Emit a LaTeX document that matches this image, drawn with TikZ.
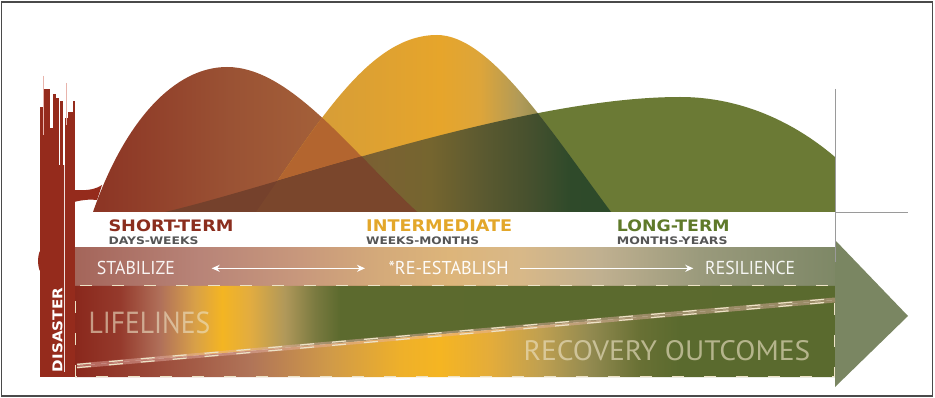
\documentclass[tikz,border=0pt]{standalone}
\usepackage{fontspec}
\usepackage{graphicx}
\usetikzlibrary{arrows.meta}
\newfontfamily\hdfont{DejaVu Sans}
\newfontfamily\ptfont{PT Sans}

\definecolor{barred}{HTML}{952B1C}
\definecolor{pinkl}{HTML}{E8B4AC}
\definecolor{stcol}{HTML}{8B2E1E}
\definecolor{imcol}{HTML}{E3A72A}
\definecolor{ltcol}{HTML}{5F7A2A}
\definecolor{subcol}{HTML}{555555}
\definecolor{framecol}{HTML}{4A4A4A}
\definecolor{guide}{HTML}{9A9A9A}
\definecolor{dashcol}{HTML}{EDE3C6}
\definecolor{headcol}{HTML}{7A8662}
\definecolor{lcol}{HTML}{6B7A35}
\definecolor{rgcol}{HTML}{B3652F}
\definecolor{rlcol}{HTML}{75412C}
\definecolor{rglcol}{HTML}{7A462C}
% band
\definecolor{b1}{HTML}{A4655A}\definecolor{b2}{HTML}{B88478}\definecolor{b3}{HTML}{C8987C}
\definecolor{b4}{HTML}{D4AA7A}\definecolor{b5}{HTML}{DDB57A}\definecolor{b6}{HTML}{D8B888}
\definecolor{b7}{HTML}{C0B090}\definecolor{b8}{HTML}{9A9A7C}\definecolor{b9}{HTML}{858C6C}
\definecolor{b10}{HTML}{7E8866}
% upper region
\definecolor{u1}{HTML}{8A281C}\definecolor{u2}{HTML}{953A2C}\definecolor{u3}{HTML}{B0705A}
\definecolor{u4}{HTML}{D8A048}\definecolor{u5}{HTML}{F4B522}\definecolor{u6}{HTML}{E2AC40}
\definecolor{u7}{HTML}{B0985A}\definecolor{u8}{HTML}{7A7A40}\definecolor{u9}{HTML}{5C6A2E}
\definecolor{u10}{HTML}{5A6A2E}
% lower region
\definecolor{l1}{HTML}{8A281C}\definecolor{l2}{HTML}{9A4838}\definecolor{l3}{HTML}{B07458}
\definecolor{l4}{HTML}{D09A48}\definecolor{l5}{HTML}{EEB02A}\definecolor{l6}{HTML}{F5B522}
\definecolor{l7}{HTML}{E4AC3A}\definecolor{l8}{HTML}{C0A050}\definecolor{l9}{HTML}{928A50}
\definecolor{l10}{HTML}{687034}\definecolor{l11}{HTML}{5A6A2E}
% short-term shape
\definecolor{r1}{HTML}{8C3424}\definecolor{r2}{HTML}{9A5234}\definecolor{r3}{HTML}{AE6E3E}
% intermediate shape
\definecolor{g1}{HTML}{D49A38}\definecolor{g2}{HTML}{D89E36}\definecolor{g3}{HTML}{E6A52B}
\definecolor{g4}{HTML}{DDA53A}\definecolor{g5}{HTML}{B09A58}\definecolor{g6}{HTML}{808248}
\definecolor{g7}{HTML}{5E6C38}
% intermediate over long-term
\definecolor{k1}{HTML}{7A4A2E}\definecolor{k2}{HTML}{7A6232}\definecolor{k3}{HTML}{75652F}
\definecolor{k4}{HTML}{5C5A30}\definecolor{k5}{HTML}{46502E}\definecolor{k6}{HTML}{2F4A2A}
\definecolor{k7}{HTML}{2D4A2A}

\pgfdeclarehorizontalshading{bandsh}{100bp}{color(0bp)=(b1); color(25bp)=(b1); color(33.22bp)=(b2); color(39.8bp)=(b3); color(45.07bp)=(b4); color(49.67bp)=(b5); color(54.28bp)=(b6); color(59.54bp)=(b7); color(66.12bp)=(b8); color(72.7bp)=(b9); color(75bp)=(b10); color(100bp)=(b10)}
\pgfdeclarehorizontalshading{uppersh}{100bp}{color(0bp)=(u1); color(25bp)=(u1); color(27.96bp)=(u2); color(30.59bp)=(u3); color(32.89bp)=(u4); color(34.67bp)=(u5); color(36.51bp)=(u6); color(38.82bp)=(u7); color(40.79bp)=(u8); color(42.43bp)=(u9); color(75bp)=(u10); color(100bp)=(u10)}
\pgfdeclarehorizontalshading{lowersh}{100bp}{color(0bp)=(l1); color(25bp)=(l1); color(29.93bp)=(l2); color(36.51bp)=(l3); color(41.78bp)=(l4); color(46.38bp)=(l5); color(49.01bp)=(l6); color(52.3bp)=(l7); color(55.59bp)=(l8); color(58.88bp)=(l9); color(62.17bp)=(l10); color(64.8bp)=(l11); color(75bp)=(l11); color(100bp)=(l11)}
\pgfdeclarehorizontalshading{rsh}{100bp}{color(0bp)=(r1); color(25bp)=(r1); color(46.14bp)=(r2); color(75bp)=(r3); color(100bp)=(r3)}
\pgfdeclarehorizontalshading{gsh}{100bp}{color(0bp)=(g1); color(25bp)=(g1); color(35.42bp)=(g2); color(50.92bp)=(g3); color(56.55bp)=(g4); color(62.18bp)=(g5); color(67.82bp)=(g6); color(75bp)=(g7); color(100bp)=(g7)}
\pgfdeclarehorizontalshading{glsh}{100bp}{color(0bp)=(k1); color(25bp)=(k1); color(42.46bp)=(k2); color(49.51bp)=(k3); color(56.55bp)=(k4); color(63.59bp)=(k5); color(69.23bp)=(k6); color(75bp)=(k7); color(100bp)=(k7)}

\tikzset{
  txt/.style={inner sep=0pt, anchor=base west},
  dashline/.style={draw=dashcol, line width=1.2pt, dash pattern=on 14pt off 18pt},
  bandarrow/.style={draw=white, line width=1.1pt},
}

\def\pathR{(93,212) .. controls (125,120) and (175,67) .. (227,67) .. controls (290,67) and (350,150) .. (417,212) -- cycle}
\def\pathG{(256,212) .. controls (320,120) and (370,35) .. (437,35) .. controls (490,35) and (550,130) .. (611,212) -- cycle}
\def\pathL{(165,212) .. controls (280,185) and (520,97) .. (680,97) .. controls (760,97) and (815,140) .. (835,157) -- (835,212) -- cycle}

\begin{document}
\begin{tikzpicture}[x=1pt,y=-1pt]
\useasboundingbox (0,0) rectangle (935,398);
\fill[white] (0,0) rectangle (935,398);

% ---- mountains ----
\fill[lcol] \pathL;
\shade[shading=rsh] \pathR;
\shade[shading=gsh] \pathG;
\begin{scope}\clip \pathR; \fill[rgcol] \pathG; \end{scope}
\begin{scope}\clip \pathL; \shade[shading=glsh] \pathG; \end{scope}
\begin{scope}\clip \pathR; \fill[rlcol] \pathL; \end{scope}
\begin{scope}\clip \pathR; \clip \pathL; \fill[rglcol] \pathG; \end{scope}

% ---- arrow body ----
\shade[shading=bandsh] (75,248) rectangle (835,286);
\shade[shading=uppersh] (75,286) -- (835,286) -- (835,300) -- (75,366) -- cycle;
\shade[shading=lowersh] (75,366) -- (835,300) -- (835,377) -- (75,377) -- cycle;
\fill[headcol] (835,240) -- (908,316) -- (835,387) -- cycle;

% guide lines
\coordinate (gtop) at (835,89);
\coordinate (gbot) at (835,262);
\coordinate (gmid) at (835,212);
\coordinate (gend) at (908,212);
\draw[guide, line width=0.8pt] (gtop) -- (gbot);
\draw[guide, line width=0.8pt] (gmid) -- (gend);

% dashed frame of the lower area
\draw[draw=dashcol, line width=1.6pt, dash pattern=on 12pt off 20pt]
  (834.5,303) -- (834.5,376.5) -- (75.5,376.5) -- (75.5,285.5) -- (834.5,285.5) -- (834.5,296);

% diagonal double dashed line
\coordinate (d1) at (77,366);
\coordinate (d2) at (835,300);
\coordinate (d1a) at (77,364.4);
\coordinate (d2a) at (835,298.4);
\coordinate (d1b) at (77,367.6);
\coordinate (d2b) at (835,301.6);
\draw[line width=5pt, draw=pinkl, opacity=0.45] (d1) -- (d2);
\draw[dashline] (d1a) -- (d2a);
\draw[dashline] (d1b) -- (d2b);

% ---- disaster bar ----
\fill[barred] (40,165) rectangle (75,377);
\foreach \xa/\xb/\yt in {40/43.5/107, 44/49.5/89, 50/52.5/128, 52.7/56/94, 56.3/59.3/98, 59.6/62.8/101, 65.3/68/118, 68.3/72.5/112, 72.7/75/101}
  {\fill[barred] (\xa,\yt) rectangle (\xb,170);}
\draw[pinkl, line width=0.9pt] (43.8,76) -- (43.8,135);
\draw[pinkl, line width=0.9pt] (66.7,83) -- (66.7,125);
\draw[white, line width=1.2pt, opacity=0.85] (64.2,100) -- (64.2,372);
\fill[barred] (74,190) .. controls (88,191) and (96,189) .. (102,185) -- (97,200) .. controls (90,199) and (82,200) .. (74,202) -- cycle;
\fill[barred] (40,251) .. controls (37.5,255) and (37.5,267) .. (40,271) -- cycle;
\node[inner sep=0pt, rotate=90, text=white] (dis) at (57.5,330)
  {\resizebox{84pt}{10pt}{\hdfont\bfseries DISASTER}};

% ---- headings ----
\node[txt, text=stcol] (st) at (108.3,231.7) {\resizebox{125pt}{11.7pt}{\hdfont\bfseries SHORT-TERM}};
\node[txt, text=subcol] (stsub) at (108.3,245) {\resizebox{90pt}{7.7pt}{\hdfont\bfseries DAYS-WEEKS}};
\node[txt, text=imcol] (im) at (366,231.7) {\resizebox{146pt}{11.7pt}{\hdfont\bfseries INTERMEDIATE}};
\node[txt, text=subcol] (imsub) at (366,245) {\resizebox{113pt}{7.7pt}{\hdfont\bfseries WEEKS-MONTHS}};
\node[txt, text=ltcol] (lt) at (616.7,231.7) {\resizebox{112.7pt}{11.7pt}{\hdfont\bfseries LONG-TERM}};
\node[txt, text=subcol] (ltsub) at (616.7,245) {\resizebox{110.7pt}{7.7pt}{\hdfont\bfseries MONTHS-YEARS}};

% ---- band texts ----
\node[txt, text=white, text opacity=0.92] (stab) at (96.7,275) {\resizebox{78pt}{13.3pt}{\ptfont STABILIZE}};
\node[txt, text=white, text opacity=0.95] (reest) at (388.3,275) {\resizebox{120pt}{13.3pt}{\ptfont *RE-ESTABLISH}};
\node[txt, text=white, text opacity=0.92] (resil) at (705,275) {\resizebox{90pt}{13.3pt}{\ptfont RESILIENCE}};
\coordinate (a1s) at (211.7,268.3);
\coordinate (a1e) at (365,268.3);
\coordinate (a2s) at (520,268.3);
\coordinate (a2e) at (693.3,268.3);
\draw[bandarrow, {Stealth[length=8pt,width=7pt]}-{Stealth[length=8pt,width=7pt]}] (a1s) -- (a1e);
\draw[bandarrow, -{Stealth[length=8pt,width=7pt]}] (a2s) -- (a2e);

% ---- big texts ----
\node[txt, text=dashcol, text opacity=0.6] (life) at (88.3,333.3) {\resizebox{121.7pt}{21.7pt}{\ptfont LIFELINES}};
\node[txt, text=dashcol, text opacity=0.62] (rec) at (523.3,360) {\resizebox{286.7pt}{20pt}{\ptfont RECOVERY OUTCOMES}};

% ---- frame ----
\draw[framecol, line width=1.6pt] (1.5,2) rectangle (932.5,396);
\end{tikzpicture}
\end{document}
